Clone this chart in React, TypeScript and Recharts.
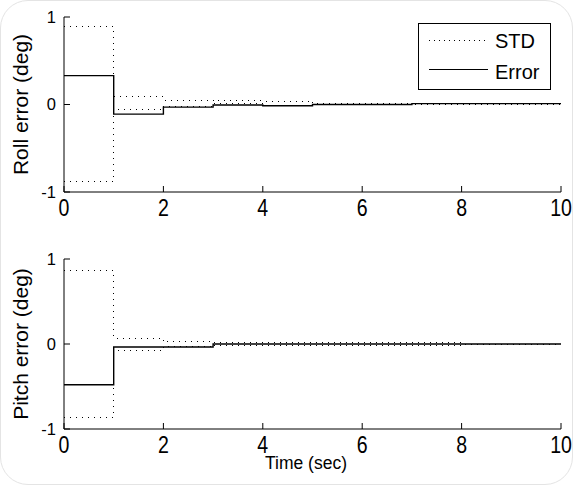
import React from "react"
import { LineChart, Line, XAxis, YAxis, Legend } from "recharts"

const time = [0, 1, 2, 3, 4, 5, 6, 7, 8, 9, 10]
const xTicks = [0, 2, 4, 6, 8, 10]
const yTicks = [-1, 0, 1]

const rollError = [0.33, -0.11, -0.03, -0.005, -0.015, 0, 0, 0.01, 0.01, 0.01, 0.01]
const rollStdUpper = [0.89, 0.09, 0.05, 0.045, 0.04, 0.015, 0.015, 0.01, 0.01, 0.01, 0.01]
const rollStdLower = [-0.88, -0.055, -0.02, 0.01, -0.015, 0, 0, 0, 0, 0, 0]

const pitchError = [-0.48, -0.035, -0.035, 0, 0, 0, 0, 0, 0, 0, 0]
const pitchStdUpper = [0.86, 0.07, 0.03, 0.015, 0.015, 0.015, 0.015, 0.015, 0, 0, 0]
const pitchStdLower = [-0.86, -0.08, -0.035, -0.015, -0.015, -0.015, -0.015, -0.015, 0, 0, 0]

const rollData = time.map((t, i) => ({
  t,
  err: rollError[i],
  up: rollStdUpper[i],
  lo: rollStdLower[i],
}))
const pitchData = time.map((t, i) => ({
  t,
  err: pitchError[i],
  up: pitchStdUpper[i],
  lo: pitchStdLower[i],
}))

const FONT = "'Liberation Sans', Arial, sans-serif"
const DOTS = "1 5"

function XTick(props: any) {
  const { x, y, payload } = props
  return (
    <text
      transform={`translate(${x} ${y}) scale(0.85 1)`}
      dy="0.71em"
      textAnchor="middle"
      fontSize={23}
      fontFamily={FONT}
      fill="#000"
    >
      {payload.value}
    </text>
  )
}

function YTick(props: any) {
  const { x, y, payload } = props
  return (
    <text x={x} y={y} dy="0.36em" textAnchor="end" fontSize={16.5} fontFamily={FONT} fill="#000">
      {payload.value}
    </text>
  )
}

function LegendBox() {
  return (
    <svg width={133} height={67} style={{ display: "block" }}>
      <rect x={0.5} y={0.5} width={132} height={66} fill="#fff" stroke="#000" />
      <line x1={11} x2={70} y1={17.5} y2={17.5} stroke="#000" strokeDasharray="1 4" shapeRendering="crispEdges" />
      <line x1={11} x2={70} y1={46.5} y2={46.5} stroke="#000" />
      <text x={77} y={25} fontSize={20} fontFamily={FONT} fill="#000">STD</text>
      <text x={77} y={56} fontSize={20} fontFamily={FONT} fill="#000">Error</text>
    </svg>
  )
}

function Panel(props: {
  data: any[]
  height: number
  margin: { top: number; right: number; bottom: number; left: number }
  yLabel: string
  labelY: number
  showLegend?: boolean
  showTime?: boolean
}) {
  const { data, height, margin, yLabel, labelY, showLegend, showTime } = props
  return (
    <LineChart width={573} height={height} data={data} margin={margin}>
      <XAxis
        dataKey="t"
        type="number"
        domain={[0, 10]}
        ticks={xTicks}
        height={30}
        tickSize={-6}
        tickMargin={14}
        tick={<XTick />}
        stroke="#000"
        axisLine={{ stroke: "#000" }}
        tickLine={{ stroke: "#000" }}
        label={
          showTime
            ? {
                value: "Time (sec)",
                content: () => (
                  <text x={306} y={229} textAnchor="middle" fontSize={17.5} fontFamily={FONT} fill="#000">
                    Time (sec)
                  </text>
                ),
              }
            : undefined
        }
      />
      <XAxis
        xAxisId="top"
        orientation="top"
        dataKey="t"
        type="number"
        domain={[0, 10]}
        ticks={xTicks}
        height={0}
        tickSize={-6}
        tick={false}
        axisLine={{ stroke: "#000" }}
        tickLine={{ stroke: "#000" }}
      />
      <YAxis
        type="number"
        domain={[-1, 1]}
        ticks={yTicks}
        width={40}
        tickSize={-6}
        tickMargin={14}
        tick={<YTick />}
        axisLine={{ stroke: "#000" }}
        tickLine={{ stroke: "#000" }}
        label={{
          value: yLabel,
          content: () => (
            <text
              x={28}
              y={labelY}
              transform={`rotate(-90, 28, ${labelY})`}
              textAnchor="middle"
              fontSize={21}
              fontFamily={FONT}
              fill="#000"
            >
              {yLabel}
            </text>
          ),
        }}
      />
      <YAxis
        yAxisId="right"
        orientation="right"
        type="number"
        domain={[-1, 1]}
        ticks={yTicks}
        width={0}
        tickSize={-6}
        tick={false}
        axisLine={{ stroke: "#000" }}
        tickLine={{ stroke: "#000" }}
      />
      {showLegend && (
        <Legend
          layout="vertical"
          align="center"
          verticalAlign="middle"
          wrapperStyle={{ left: 418, top: 23, width: 133, height: 67 }}
          content={() => <LegendBox />}
        />
      )}
      <Line
        type="stepAfter"
        dataKey="up"
        stroke="#000"
        strokeWidth={1}
        strokeDasharray={DOTS}
        shapeRendering="crispEdges"
        dot={false}
        activeDot={false}
        isAnimationActive={false}
      />
      <Line
        type="stepAfter"
        dataKey="lo"
        stroke="#000"
        strokeWidth={1}
        strokeDasharray={DOTS}
        shapeRendering="crispEdges"
        dot={false}
        activeDot={false}
        isAnimationActive={false}
      />
      <Line
        type="stepAfter"
        dataKey="err"
        stroke="#000"
        strokeWidth={1.4}
        dot={false}
        activeDot={false}
        isAnimationActive={false}
      />
    </LineChart>
  )
}

export default function App() {
  return (
    <div
      style={{
        position: "absolute",
        left: 0,
        top: 0,
        width: 573,
        height: 487,
        background: "#fff",
        fontFamily: FONT,
      }}
    >
      <div
        style={{
          position: "absolute",
          left: 0,
          top: 0,
          width: 571,
          height: 483,
          border: "1px solid #e4e4e4",
          borderRadius: 28,
        }}
      />
      <div style={{ position: "absolute", left: 0, top: 0 }}>
        <Panel
          data={rollData}
          height={240}
          margin={{ top: 17, right: 12, bottom: 18, left: 24 }}
          yLabel="Roll error (deg)"
          labelY={104.5}
          showLegend
        />
      </div>
      <div style={{ position: "absolute", left: 0, top: 240 }}>
        <Panel
          data={pitchData}
          height={247}
          margin={{ top: 19, right: 12, bottom: 28, left: 24 }}
          yLabel="Pitch error (deg)"
          labelY={104}
          showTime
        />
      </div>
    </div>
  )
}
